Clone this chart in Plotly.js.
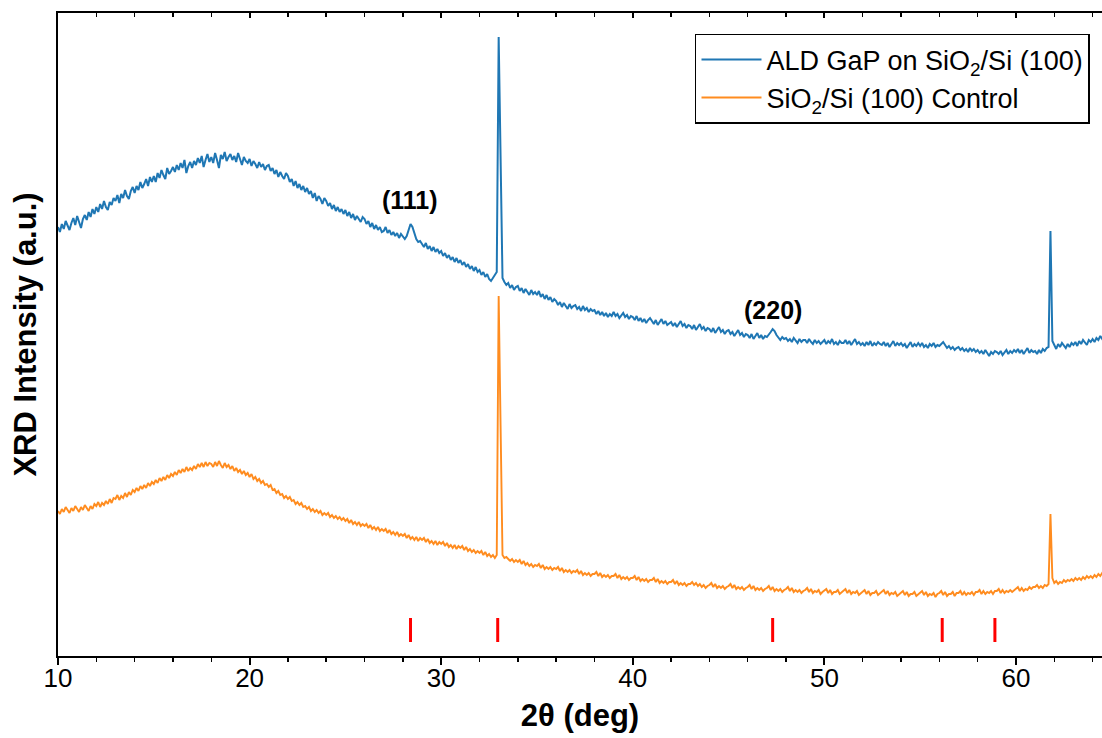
<!DOCTYPE html>
<html>
<head>
<meta charset="utf-8">
<script src="https://cdn.plot.ly/plotly-3.0.1.min.js"></script>
<style>html,body{margin:0;padding:0;background:#fff;}#chart{width:1102px;height:738px;}</style>
</head>
<body>
<div id="chart"></div>
<script>
// Scan grid (2θ, deg): start and step of the diffractometer scan
const thetaStart = 10.0;
const thetaStep = 0.1;

// ALD GaP on SiO2/Si (100) — intensity (a.u.), one row per degree
const gapIntensity = [
429,424,432,427,435,430,426,433,438,431,
440,434,428,437,441,436,444,439,447,442,
449,444,452,447,455,449,446,454,451,458,
455,461,453,462,458,466,460,457,465,469,
463,470,466,474,468,472,477,470,479,474,
480,474,483,478,486,481,477,488,482,485,
489,484,491,486,493,488,496,483,490,494,
488,495,491,498,493,500,489,496,502,494,
499,493,503,496,488,501,497,504,495,499,
502,496,500,494,503,497,491,499,495,493,
497,490,495,492,488,494,489,492,486,490,
491,485,488,482,486,479,484,480,477,483,
480,474,477,470,475,468,472,466,470,464,
468,462,465,458,463,455,460,457,452,458,
455,450,453,447,451,445,449,444,447,442,
446,440,444,438,442,436,440,437,434,439,
437,432,435,429,433,427,431,426,429,424,
425,429,423,426,421,424,420,423,418,422,
419,417,420,425,432,429,422,417,414,415,
412,409,413,407,410,405,409,404,407,403,
405,400,403,398,401,396,399,394,398,393,
396,391,394,389,392,387,390,385,389,384,
386,381,384,379,382,377,375,378,382,384,
619,470,378,374,371,373,368,371,366,369,
370,365,368,363,367,364,361,366,362,364,
361,365,359,362,357,361,356,359,354,357,
355,351,354,349,353,350,347,352,348,350,
351,347,349,345,350,346,348,344,347,345,
346,342,345,341,344,340,343,339,342,340,
344,340,342,338,341,343,339,341,337,340,
339,336,340,335,338,334,337,333,336,338,
335,332,336,331,334,337,332,335,331,333,
334,330,333,329,332,335,330,332,328,331,
330,327,331,326,329,332,327,329,325,328,
327,324,328,323,326,329,324,326,322,325,
326,322,324,320,323,326,321,323,319,322,
321,318,322,317,320,323,318,321,317,320,
319,321,324,327,325,321,319,316,319,317,
318,315,317,314,318,315,313,317,314,316,
316,313,317,314,312,316,313,315,312,314,
316,312,315,313,317,312,314,311,315,313,
313,316,312,315,311,314,317,312,314,311,
313,310,314,311,315,310,313,311,314,312,
311,314,310,313,309,312,315,310,313,311,
313,310,312,308,311,314,309,312,310,313,
310,313,309,311,308,312,310,313,309,311,
310,312,314,311,308,310,307,309,306,308,
309,306,308,305,307,304,308,305,307,304,
306,303,305,302,306,303,300,304,302,305,
304,302,305,301,304,306,302,305,303,306,
304,307,303,306,302,305,308,303,306,304,
305,302,306,303,307,305,308,309,425,315,
311,307,312,309,313,310,308,312,309,313,
311,314,310,315,312,316,313,311,316,314,
317,314,318,316,320,317,320
];

// SiO2/Si (100) control — intensity (a.u.), one row per degree
const controlIntensity = [
145,142,147,144,149,146,143,148,145,150,
147,144,149,146,151,148,145,150,147,152,
150,154,149,153,151,155,152,157,153,158,
157,161,156,160,158,163,159,164,161,166,
164,168,165,170,167,171,168,173,170,174,
172,176,173,178,175,179,176,181,178,182,
180,184,181,186,183,187,184,189,185,188,
186,190,187,192,189,193,189,194,190,193,
192,189,194,190,195,191,188,193,189,191,
187,190,185,188,184,186,182,185,181,183,
179,182,177,179,175,177,173,175,171,172,
169,171,166,167,163,165,161,162,158,160,
157,159,155,156,152,154,151,153,149,150,
147,149,145,147,144,146,143,145,141,143,
141,143,139,141,138,140,137,139,136,138,
135,137,133,136,132,134,131,134,130,132,
130,132,128,131,127,129,126,129,125,127,
125,127,123,126,122,124,121,124,120,122,
120,122,118,121,117,119,116,119,115,118,
116,118,114,117,113,115,112,115,111,114,
112,114,110,113,109,111,108,111,107,110,
108,110,106,109,105,107,104,106,103,105,
103,105,101,104,100,102,99,101,98,101,
360,230,101,98,99,97,95,97,94,96,
94,96,92,95,91,93,90,92,89,91,
90,92,88,91,87,89,87,89,86,88,
87,89,85,88,84,86,84,86,83,85,
84,86,82,85,81,83,81,83,80,82,
82,84,80,83,79,81,79,81,78,80,
80,82,78,81,77,79,77,79,76,78,
78,80,76,79,75,77,75,77,74,76,
76,78,74,77,73,75,73,75,72,74,
74,76,72,75,71,73,71,73,70,72,
72,74,71,73,70,72,69,71,68,70,
71,73,69,72,68,70,68,70,67,69,
70,72,68,71,67,69,67,69,66,68,
69,71,67,70,66,68,66,68,65,67,
68,70,66,69,65,67,65,67,64,66,
67,69,65,68,64,66,64,66,63,65,
66,68,64,67,63,65,64,66,62,64,
66,67,63,66,62,64,64,66,62,64,
65,67,63,66,62,64,63,65,61,63,
65,66,62,65,61,63,63,65,61,63,
64,66,62,65,61,63,62,64,60,62,
64,65,61,64,60,62,62,64,60,62,
63,65,61,64,60,62,61,63,59,62,
63,65,61,64,60,62,62,64,60,63,
63,65,61,64,61,63,62,64,61,64,
64,66,62,65,62,64,63,65,62,65,
65,67,63,66,63,65,64,66,64,66,
67,69,65,68,65,67,66,69,67,69,
69,71,68,70,68,71,70,72,142,78,
73,75,72,74,73,76,74,76,75,77,
75,78,76,78,76,79,77,80,78,80,
78,81,79,82,80,83,81
];

// GaP reference reflections (2θ, deg)
const refPeaks = [28.4, 32.95, 47.3, 56.15, 58.9];

// Labelled reflections
const peakLabels = ['(111)', '(220)'];
const peakLabelTheta = [28.37, 47.32];
const peakLabelHeight = [456, 346];

const seriesNames = ['ALD GaP on SiO<sub>2</sub>/Si (100)', 'SiO<sub>2</sub>/Si (100) Control'];
const seriesColors = ['#1f77b4', '#ff8c1f'];

const FONT = 'Liberation Sans, Arial, sans-serif';

const thetaGap = gapIntensity.map((_, i) => +(thetaStart + i * thetaStep).toFixed(2));
const thetaCtl = controlIntensity.map((_, i) => +(thetaStart + i * thetaStep).toFixed(2));

// reference sticks drawn near the bottom of the frame
const stickLow = 14, stickHigh = 38;
const stickX = [], stickY = [];
refPeaks.forEach(p => { stickX.push(p, p, null); stickY.push(stickLow, stickHigh, null); });

const traces = [
  {x: thetaGap, y: gapIntensity, type: 'scatter', mode: 'lines', name: seriesNames[0],
   line: {color: seriesColors[0], width: 2}},
  {x: thetaCtl, y: controlIntensity, type: 'scatter', mode: 'lines', name: seriesNames[1],
   line: {color: seriesColors[1], width: 1.9}},
  {x: stickX, y: stickY, type: 'scatter', mode: 'lines', showlegend: false, hoverinfo: 'skip',
   line: {color: '#ff0000', width: 3}},
  {x: [], y: [], xaxis: 'x2', type: 'scatter', mode: 'lines', showlegend: false},
  {x: [], y: [], xaxis: 'x3', type: 'scatter', mode: 'lines', showlegend: false}
];

const annotations = peakLabels.map((t, i) => ({
  x: peakLabelTheta[i], y: peakLabelHeight[i], xref: 'x', yref: 'y', text: t, showarrow: false,
  xanchor: 'center', yanchor: 'middle', font: {family: FONT, size: 25, color: '#000', weight: 'bold'}
}));

const layout = {
  width: 1102, height: 738,
  margin: {l: 58, r: 0, t: 13, b: 82},
  paper_bgcolor: '#fff', plot_bgcolor: '#fff',
  showlegend: true,
  xaxis: {
    range: [10, 64.49], tick0: 10, dtick: 10,
    ticks: 'outside', ticklen: 7, tickwidth: 2, tickcolor: '#000',
    minor: {dtick: 2, ticks: 'outside', ticklen: 4, tickwidth: 1.5, tickcolor: '#000', showgrid: false},
    showline: true, linewidth: 2, linecolor: '#000',
    showgrid: false, zeroline: false, showticklabels: false
  },
  xaxis2: {
    overlaying: 'x', side: 'top', matches: 'x', range: [10, 64.49], tick0: 10, dtick: 10,
    ticks: 'inside', ticklen: 5, tickwidth: 2, tickcolor: '#000',
    minor: {dtick: 2, ticks: 'inside', ticklen: 4, tickwidth: 1.5, tickcolor: '#000', showgrid: false},
    showticklabels: false, showline: true, linewidth: 2, linecolor: '#000',
    showgrid: false, zeroline: false
  },
  xaxis3: {
    overlaying: 'x', side: 'bottom', matches: 'x', range: [10, 64.49], tick0: 10, dtick: 10,
    ticks: '', showline: false, showgrid: false, zeroline: false,
    showticklabels: true,
    tickfont: {family: FONT, size: 26, color: '#000'},
    ticklabelstandoff: 4,
    title: {text: '2θ (deg)', font: {family: FONT, size: 31, color: '#000', weight: 'bold'}, standoff: 12}
  },
  yaxis: {
    range: [0, 643], showline: true, linewidth: 2, linecolor: '#000',
    ticks: '', showticklabels: false, showgrid: false, zeroline: false,
    title: {text: 'XRD Intensity (a.u.)', font: {family: FONT, size: 31, color: '#000', weight: 'bold'}, standoff: 10}
  },
  legend: {
    x: 0.9885, xanchor: 'right', y: 0.9675, yanchor: 'top',
    bgcolor: '#fff', bordercolor: '#000', borderwidth: 1.5,
    font: {family: FONT, size: 27, color: '#000'},
    itemwidth: 60, tracegroupgap: 0
  },
  annotations: annotations
};

Plotly.newPlot('chart', traces, layout, {staticPlot: true, displayModeBar: false});
</script>
</body>
</html>
